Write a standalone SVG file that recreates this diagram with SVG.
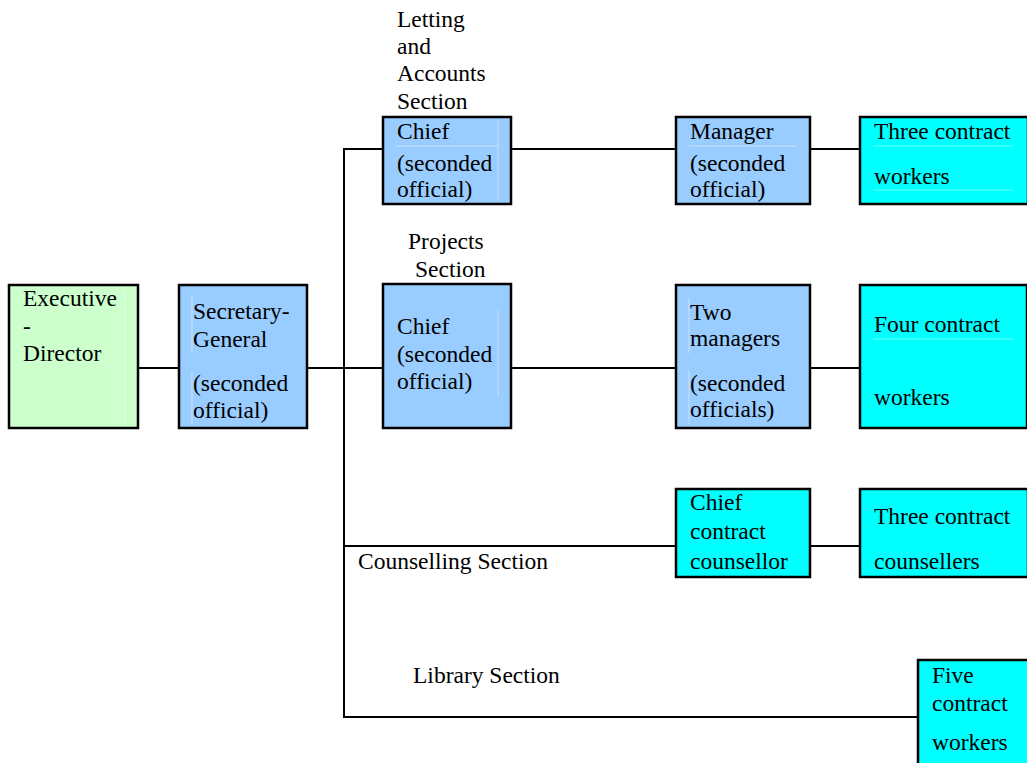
<svg xmlns="http://www.w3.org/2000/svg" width="1027" height="763" viewBox="0 0 1027 763">
  <style>
    .box { stroke: #000; stroke-width: 2.5; }
    .green { fill: #CCFFCC; }
    .blue { fill: #99CCFF; }
    .cyan { fill: #00FFFF; }
    .conn { fill: none; stroke: #000; stroke-width: 2; }
    .seam { stroke: #ffffff; stroke-opacity: 0.45; stroke-width: 1; }
    text { font-family: "Liberation Serif", "Times New Roman", "DejaVu Serif", serif; font-size: 23.5px; fill: #000; }
  </style>
  <rect width="1027" height="763" fill="#fff"/>

  <!-- connectors -->
  <g id="connectors">
    <line class="conn" x1="138" y1="368" x2="179" y2="368"/>
    <line class="conn" x1="307" y1="368" x2="383" y2="368"/>
    <polyline class="conn" points="383,149 344,149 344,717 918,717"/>
    <line class="conn" x1="344" y1="546" x2="676" y2="546"/>
    <line class="conn" x1="511" y1="149" x2="676" y2="149"/>
    <line class="conn" x1="810" y1="149" x2="860" y2="149"/>
    <line class="conn" x1="511" y1="368" x2="676" y2="368"/>
    <line class="conn" x1="810" y1="368" x2="860" y2="368"/>
    <line class="conn" x1="810" y1="546" x2="860" y2="546"/>
  </g>

  <!-- section labels -->
  <g id="section-labels">
    <text x="397" y="27">Letting</text>
    <text x="397" y="54">and</text>
    <text x="397" y="81">Accounts</text>
    <text x="397" y="109">Section</text>
    <text x="408" y="249">Projects</text>
    <text x="415" y="277">Section</text>
    <text x="358" y="569">Counselling Section</text>
    <text x="413" y="683">Library Section</text>
  </g>

  <g id="executive-director">
    <rect class="box green" x="9" y="285" width="129" height="143"/>
    <line class="seam" x1="125" y1="290" x2="125" y2="424"/>
    <text x="23" y="306">Executive</text>
    <text x="23" y="334">-</text>
    <text x="23" y="361">Director</text>
  </g>

  <g id="secretary-general">
    <rect class="box blue" x="179" y="285" width="128" height="143"/>
    <line class="seam" x1="192" y1="296" x2="192" y2="352"/>
    <line class="seam" x1="192" y1="372" x2="192" y2="424"/>
    <text x="193" y="319">Secretary-</text>
    <text x="193" y="347">General</text>
    <text x="193" y="391">(seconded</text>
    <text x="193" y="418">official)</text>
  </g>

  <g id="letting-chief">
    <rect class="box blue" x="383" y="117" width="128" height="87"/>
    <line class="seam" x1="396" y1="146" x2="498" y2="146"/>
    <line class="seam" x1="498" y1="120" x2="498" y2="201"/>
    <text x="397" y="139">Chief</text>
    <text x="397" y="171">(seconded</text>
    <text x="397" y="197">official)</text>
  </g>

  <g id="letting-manager">
    <rect class="box blue" x="676" y="117" width="134" height="87"/>
    <line class="seam" x1="689" y1="146" x2="796" y2="146"/>
    <text x="690" y="139">Manager</text>
    <text x="690" y="171">(seconded</text>
    <text x="690" y="197">official)</text>
  </g>

  <g id="letting-workers">
    <rect class="box cyan" x="860" y="117" width="168" height="87"/>
    <line class="seam" x1="873" y1="146" x2="1013" y2="146"/>
    <line class="seam" x1="873" y1="190" x2="1013" y2="190"/>
    <text x="874" y="139">Three contract</text>
    <text x="874" y="184">workers</text>
  </g>

  <g id="projects-chief">
    <rect class="box blue" x="383" y="284" width="128" height="144"/>
    <line class="seam" x1="498" y1="310" x2="498" y2="396"/>
    <text x="397" y="334">Chief</text>
    <text x="397" y="362">(seconded</text>
    <text x="397" y="389">official)</text>
  </g>

  <g id="projects-managers">
    <rect class="box blue" x="676" y="285" width="134" height="143"/>
    <line class="seam" x1="689" y1="298" x2="689" y2="353"/>
    <line class="seam" x1="689" y1="370" x2="689" y2="424"/>
    <text x="690" y="320">Two</text>
    <text x="690" y="346">managers</text>
    <text x="690" y="391">(seconded</text>
    <text x="690" y="417">officials)</text>
  </g>

  <g id="projects-workers">
    <rect class="box cyan" x="860" y="285" width="167" height="143"/>
    <line class="seam" x1="873" y1="339" x2="1013" y2="339"/>
    <text x="874" y="332">Four contract</text>
    <text x="874" y="405">workers</text>
  </g>

  <g id="counselling-chief">
    <rect class="box cyan" x="676" y="489" width="134" height="88"/>
    <text x="690" y="510">Chief</text>
    <text x="690" y="539">contract</text>
    <text x="690" y="569">counsellor</text>
  </g>

  <g id="counselling-counsellers">
    <rect class="box cyan" x="860" y="489" width="168" height="88"/>
    <text x="874" y="524">Three contract</text>
    <text x="874" y="569">counsellers</text>
  </g>

  <g id="library-workers">
    <rect class="box cyan" x="918" y="660" width="112" height="106"/>
    <text x="932" y="683">Five</text>
    <text x="932" y="711">contract</text>
    <text x="932" y="750">workers</text>
  </g>
</svg>
